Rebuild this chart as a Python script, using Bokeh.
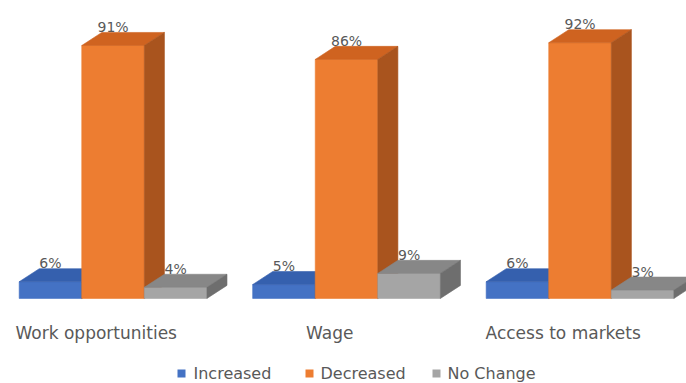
from bokeh.plotting import figure
from bokeh.models import Range1d, ColumnDataSource
from bokeh.embed import file_html
from bokeh.resources import INLINE
from bokeh.core.properties import value

# ---- data ----
categories = ["Work opportunities", "Wage", "Access to markets"]
series = ["Increased", "Decreased", "No Change"]
increased = [6, 5, 6]
decreased = [91, 86, 92]
no_change = [4, 9, 3]
series_values = [increased, decreased, no_change]

# ---- style ----
front_colors = ["#4472C4", "#ED7D31", "#A5A5A5"]
top_colors = ["#3560AE", "#CF6320", "#878787"]
side_colors = ["#2C4F8E", "#A9541E", "#6E6E6E"]
FONT = "DejaVu Sans"
TXT = "#595959"

BAR_W = 0.268    # bar width in category units
DX = 0.086       # 3D depth offset (x, category units)
DY = 4.7         # 3D depth offset (y, percent units)

X0, X1 = -0.482, 2.456
Y0, Y1 = -30.6, 107.2
W, H = 686, 383

def px_x(px):
    return X0 + px * (X1 - X0) / W

def px_y(py):
    return Y1 - py * (Y1 - Y0) / H

p = figure(width=W, height=H, x_range=Range1d(X0, X1), y_range=Range1d(Y0, Y1),
           output_backend="svg", toolbar_location=None, min_border=0,
           x_axis_type=None, y_axis_type=None)
p.grid.visible = False
p.outline_line_color = None
p.background_fill_color = "white"
p.border_fill_color = "white"

xs, ys, fills = [], [], []
lab_x, lab_y, lab_t = [], [], []
for g in range(len(categories)):
    for s in range(len(series)):
        v = series_values[s][g]
        c = g + (s - 1) * BAR_W
        l, r = c - BAR_W / 2, c + BAR_W / 2
        # front
        xs.append([l, r, r, l]); ys.append([0, 0, v, v]); fills.append(front_colors[s])
        # top
        xs.append([l, r, r + DX, l + DX]); ys.append([v, v, v + DY, v + DY]); fills.append(top_colors[s])
        # side
        xs.append([r, r + DX, r + DX, r]); ys.append([0, DY, v + DY, v]); fills.append(side_colors[s])
        lab_x.append(c); lab_y.append(v + DY + 1.9); lab_t.append(f"{v}%")

src = ColumnDataSource(dict(xs=xs, ys=ys, fill=fills))
p.patches("xs", "ys", source=src, fill_color="fill", line_color="fill", line_width=0.6)

lsrc = ColumnDataSource(dict(x=lab_x, y=lab_y, t=lab_t))
p.text("x", "y", text="t", source=lsrc, text_font=value(FONT), text_font_size="14px",
       text_color=TXT, text_align="center", text_baseline="middle")

# category labels
csrc = ColumnDataSource(dict(x=[g - 0.072 for g in range(len(categories))],
                             y=[px_y(332)] * len(categories), t=categories))
p.text("x", "y", text="t", source=csrc, text_font=value(FONT), text_font_size="17px",
       text_color=TXT, text_align="center", text_baseline="middle")

# legend
sq_px = [181, 309, 436]
tx_px = [193, 320, 447]
ly = px_y(373)
p.rect([px_x(v) for v in sq_px], [ly] * 3, width=8, height=8, width_units="screen",
       height_units="screen", fill_color=front_colors, line_color=None)
p.text([px_x(v) for v in tx_px], [ly] * 3, text=series, text_font=value(FONT),
       text_font_size="16px", text_color=TXT, text_align="left", text_baseline="middle")

open("out.html", "w").write(file_html(p, INLINE))
